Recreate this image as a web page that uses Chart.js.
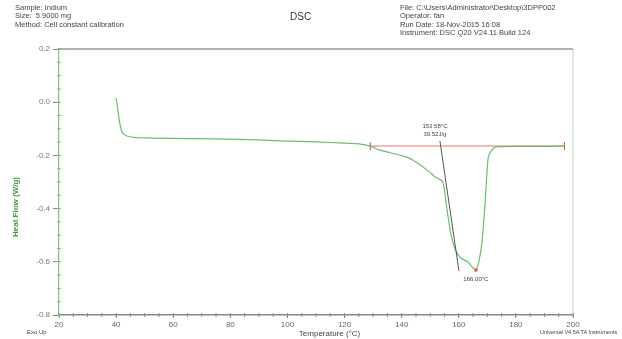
<!DOCTYPE html>
<html>
<head>
<meta charset="utf-8">
<script src="https://cdn.jsdelivr.net/npm/chart.js@4.4.0/dist/chart.umd.min.js"></script>
<style>
  body { margin: 0; background: #fff; font-family: "Liberation Sans", Arial, sans-serif; }
  #wrap { position: relative; width: 622px; height: 339px; }
  .t { position: absolute; font-size: 7.5px; color: #444; white-space: nowrap; line-height: 8.3px; }
</style>
</head>
<body>
<div id="wrap">
  <canvas id="dsc" width="622" height="339"></canvas>
  <div class="t" style="left:15px;top:4px">Sample: Indium<br>Size:&nbsp; 5.9000 mg<br>Method: Cell constant calibration</div>
  <div class="t" style="left:290px;top:13px;font-size:10px;color:#333">DSC</div>
  <div class="t" style="left:400px;top:4px">File: C:\Users\Administrator\Desktop\3DPP002<br>Operator: fan<br>Run Date: 18-Nov-2015 16:08<br>Instrument: DSC Q20 V24.11 Build 124</div>
  <div class="t" style="left:27px;top:328px;font-size:6px">Exo Up</div>
  <div class="t" style="left:540px;top:328px;font-size:5.5px">Universal V4.5A TA Instruments</div>
</div>
<script>
// heat flow curve
const temperature = [40, 40.5, 41, 41.5, 42, 43, 44, 46, 50, 60, 75, 90, 100, 110, 118, 125, 129, 132.4, 136, 140.4, 143.5, 146.4, 149.5, 152.3, 154.5, 155.9, 157.3, 158.7, 160.4, 163.2, 166, 167, 168.1, 169.2, 170.2, 171, 172, 174, 180, 190, 197];
const heatFlow = [0.015, -0.02, -0.06, -0.09, -0.11, -0.122, -0.128, -0.132, -0.134, -0.136, -0.138, -0.142, -0.146, -0.149, -0.153, -0.157, -0.165, -0.18, -0.19, -0.202, -0.215, -0.235, -0.26, -0.285, -0.304, -0.405, -0.499, -0.552, -0.582, -0.601, -0.631, -0.6, -0.529, -0.38, -0.217, -0.19, -0.174, -0.167, -0.166, -0.166, -0.165];

// analysis lines
const baselineT = [129, 197];
const baselineHF = [-0.165, -0.165];
const tangentT = [153.4, 160.06];
const tangentHF = [-0.146, -0.635];
const peakT = 166.0;
const peakHF = -0.631;
const onsetLabel = ['153.58°C', '39.52J/g'];
const peakLabel = '166.00°C';

const xTicks = [20, 40, 60, 80, 100, 120, 140, 160, 180, 200];
const yTicks = [0.2, 0.0, -0.2, -0.4, -0.6, -0.8];

const toPts = (xs, ys) => xs.map((x, i) => ({ x: x, y: ys[i] }));

const frame = {
  id: 'frame',
  afterDraw(chart) {
    const { ctx, chartArea: a, scales } = chart;
    ctx.save();
    // top and right border
    ctx.lineWidth = 1.5;
    ctx.strokeStyle = '#999';
    ctx.beginPath(); ctx.moveTo(a.left, a.top); ctx.lineTo(a.right, a.top); ctx.stroke();
    ctx.strokeStyle = '#b8d8b8';
    ctx.lineWidth = 1;
    ctx.beginPath(); ctx.moveTo(a.right, a.top); ctx.lineTo(a.right, a.bottom); ctx.stroke();
    // minor ticks
    ctx.strokeStyle = '#8a8a8a';
    for (let v = 20; v <= 200; v += 5) {
      const px = scales.x.getPixelForValue(v);
      ctx.beginPath(); ctx.moveTo(px, a.bottom - 2); ctx.lineTo(px, a.bottom + 2); ctx.stroke();
    }
    ctx.strokeStyle = '#7fbf7f';
    for (let v = -0.8; v <= 0.2001; v += 0.05) {
      const py = scales.y.getPixelForValue(v);
      ctx.beginPath(); ctx.moveTo(a.left - 2, py); ctx.lineTo(a.left + 2, py); ctx.stroke();
    }
    // axis titles
    ctx.textAlign = 'center';
    ctx.textBaseline = 'middle';
    ctx.font = '8px "Liberation Sans", Arial, sans-serif';
    ctx.fillStyle = '#444';
    ctx.fillText('Temperature (°C)', scales.x.getPixelForValue(120) - 15, 334);
    ctx.save();
    ctx.translate(16, scales.y.getPixelForValue(-0.3) + 25);
    ctx.rotate(-Math.PI / 2);
    ctx.font = 'bold 8px "Liberation Sans", Arial, sans-serif';
    ctx.fillStyle = '#3a9a3a';
    ctx.fillText('Heat Flow (W/g)', 0, 0);
    ctx.restore();
    // labels
    ctx.fillStyle = '#444';
    ctx.font = '6px "Liberation Sans", Arial, sans-serif';
    const ox = scales.x.getPixelForValue(tangentT[0]);
    const oy = scales.y.getPixelForValue(tangentHF[0]);
    ctx.fillText(onsetLabel[0], ox - 5, oy - 15);
    ctx.fillText(onsetLabel[1], ox - 5, oy - 7);
    const px = scales.x.getPixelForValue(peakT);
    const py = scales.y.getPixelForValue(peakHF);
    ctx.fillText(peakLabel, px, py + 9);
    ctx.restore();
  }
};

new Chart(document.getElementById('dsc'), {
  type: 'scatter',
  data: {
    datasets: [
      {
        data: toPts(baselineT, baselineHF),
        showLine: true,
        borderColor: '#f4a0a0',
        borderWidth: 1.5,
        pointStyle: 'line',
        rotation: 90,
        pointRadius: 4,
        pointBorderColor: '#c05050',
        pointBorderWidth: 1,
        order: 3
      },
      {
        data: toPts(temperature, heatFlow),
        showLine: true,
        borderColor: '#6cbf6c',
        borderWidth: 1.2,
        pointRadius: 0,
        cubicInterpolationMode: 'monotone',
        order: 2
      },
      {
        data: toPts(tangentT, tangentHF),
        showLine: true,
        borderColor: '#555',
        borderWidth: 1,
        pointRadius: 0,
        order: 1
      },
      {
        data: [{ x: peakT, y: peakHF }],
        pointRadius: 1.5,
        pointBackgroundColor: '#e07060',
        pointBorderColor: '#e07060',
        order: 0
      }
    ]
  },
  options: {
    responsive: false,
    animation: false,
    layout: { padding: { left: 8, right: 49, top: 49, bottom: 0 } },
    plugins: { legend: { display: false }, tooltip: { enabled: false } },
    scales: {
      x: {
        type: 'linear',
        min: 20,
        max: 200,
        afterBuildTicks: s => { s.ticks = xTicks.map(v => ({ value: v })); },
        afterFit: s => { s.height = 24; },
        border: { color: '#888', width: 1.5 },
        grid: { drawOnChartArea: false, tickLength: 3, color: '#888' },
        ticks: { color: '#666', padding: 2, font: { size: 8, family: '"Liberation Sans", Arial' }, maxRotation: 0 },
        title: { display: false }
      },
      y: {
        min: -0.8,
        max: 0.2,
        afterBuildTicks: s => { s.ticks = yTicks.map(v => ({ value: v })); },
        afterFit: s => { s.width = 51; },
        border: { color: '#7fbf7f', width: 1.2 },
        grid: { drawOnChartArea: false, tickLength: 6, color: '#888' },
        ticks: { color: '#777', padding: 3, font: { size: 8, family: '"Liberation Sans", Arial' }, callback: v => v.toFixed(1) },
        title: { display: false }
      }
    }
  },
  plugins: [frame]
});
</script>
</body>
</html>
